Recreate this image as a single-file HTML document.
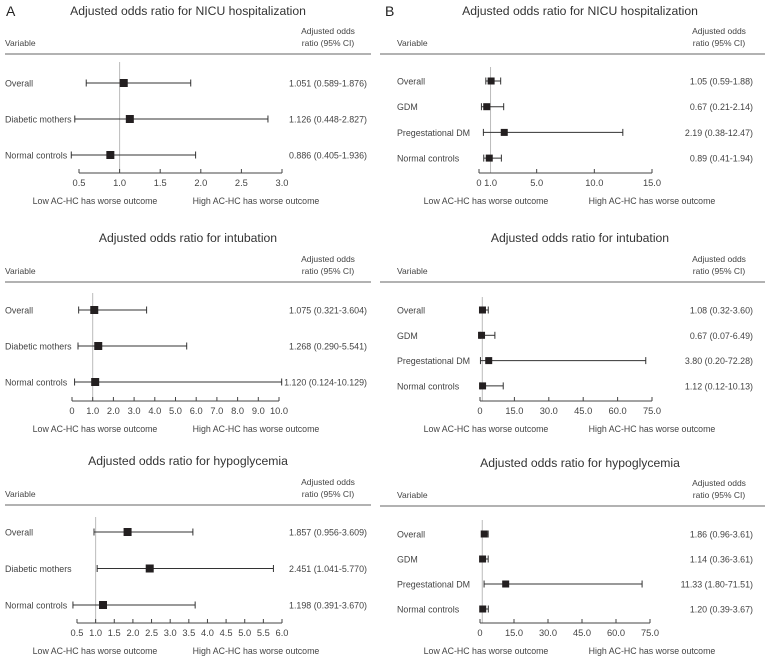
<!DOCTYPE html>
<html><head><meta charset="utf-8"><style>
body{margin:0;background:#fff;}
svg{display:block;font-family:"Liberation Sans",sans-serif;}
</style></head><body>
<svg id="c" width="765" height="663" viewBox="0 0 765 663" xmlns="http://www.w3.org/2000/svg">
<text x="6" y="16" font-size="14" fill="#222">A</text>
<text x="385" y="16" font-size="14" fill="#222">B</text>
</svg>
<script>
// Panel A1 NICU
const a1Cats=["Overall","Diabetic mothers","Normal controls"];
const a1Est=[1.051,1.126,0.886];
const a1Lo=[0.589,0.448,0.405];
const a1Hi=[1.876,2.827,1.936];
const a1Txt=["1.051 (0.589-1.876)","1.126 (0.448-2.827)","0.886 (0.405-1.936)"];
const a1Ticks=[0.5,1.0,1.5,2.0,2.5,3.0];
const a1TickLbl=["0.5","1.0","1.5","2.0","2.5","3.0"];
// Panel A2 intubation
const a2Cats=["Overall","Diabetic mothers","Normal controls"];
const a2Est=[1.075,1.268,1.120];
const a2Lo=[0.321,0.290,0.124];
const a2Hi=[3.604,5.541,10.129];
const a2Txt=["1.075 (0.321-3.604)","1.268 (0.290-5.541)","1.120 (0.124-10.129)"];
const a2Ticks=[0,1,2,3,4,5,6,7,8,9,10];
const a2TickLbl=["0","1.0","2.0","3.0","4.0","5.0","6.0","7.0","8.0","9.0","10.0"];
// Panel A3 hypoglycemia
const a3Cats=["Overall","Diabetic mothers","Normal controls"];
const a3Est=[1.857,2.451,1.198];
const a3Lo=[0.956,1.041,0.391];
const a3Hi=[3.609,5.770,3.670];
const a3Txt=["1.857 (0.956-3.609)","2.451 (1.041-5.770)","1.198 (0.391-3.670)"];
const a3Ticks=[0.5,1,1.5,2,2.5,3,3.5,4,4.5,5,5.5,6];
const a3TickLbl=["0.5","1.0","1.5","2.0","2.5","3.0","3.5","4.0","4.5","5.0","5.5","6.0"];
// Panel B1
const b1Cats=["Overall","GDM","Pregestational DM","Normal controls"];
const b1Est=[1.05,0.67,2.19,0.89];
const b1Lo=[0.59,0.21,0.38,0.41];
const b1Hi=[1.88,2.14,12.47,1.94];
const b1Txt=["1.05 (0.59-1.88)","0.67 (0.21-2.14)","2.19 (0.38-12.47)","0.89 (0.41-1.94)"];
const b1Ticks=[0,5,10,15];
const b1LblVals=[0,1,5,10,15];
const b1TickLbl=["0","1.0","5.0","10.0","15.0"];
// Panel B2
const b2Cats=["Overall","GDM","Pregestational DM","Normal controls"];
const b2Est=[1.08,0.67,3.80,1.12];
const b2Lo=[0.32,0.07,0.20,0.12];
const b2Hi=[3.60,6.49,72.28,10.13];
const b2Txt=["1.08 (0.32-3.60)","0.67 (0.07-6.49)","3.80 (0.20-72.28)","1.12 (0.12-10.13)"];
const b2Ticks=[0,15,30,45,60,75];
const b2TickLbl=["0","15.0","30.0","45.0","60.0","75.0"];
// Panel B3
const b3Cats=["Overall","GDM","Pregestational DM","Normal controls"];
const b3Est=[1.86,1.14,11.33,1.20];
const b3Lo=[0.96,0.36,1.80,0.39];
const b3Hi=[3.61,3.61,71.51,3.67];
const b3Txt=["1.86 (0.96-3.61)","1.14 (0.36-3.61)","11.33 (1.80-71.51)","1.20 (0.39-3.67)"];
const b3Ticks=[0,15,30,45,60,75];
const b3TickLbl=["0","15.0","30.0","45.0","60.0","75.0"];

const svg=document.getElementById('c');
const NS='http://www.w3.org/2000/svg';
function mk(tag,attrs,txt){const e=document.createElementNS(NS,tag);for(const k in attrs)e.setAttribute(k,attrs[k]);if(txt!==undefined)e.textContent=txt;svg.appendChild(e);return e;}

function panel(p){
  const sx=v=>p.x0+(v-p.d0)/(p.d1-p.d0)*(p.x1-p.x0);
  let e;
  e=mk('text',{x:p.tx,y:p.ty,'font-size':12.2,fill:'#333','text-anchor':'middle'},p.title);
  
  
  e=mk('text',{x:p.lx,y:p.lineY-8,'font-size':8.5,fill:'#444'},'Variable');
  
  
  e=mk('text',{x:p.hx,y:p.lineY-20,'font-size':8.5,fill:'#444','text-anchor':'middle'},'Adjusted odds');
  
  
  e=mk('text',{x:p.hx,y:p.lineY-8,'font-size':8.5,fill:'#444','text-anchor':'middle'},'ratio (95% CI)');
  
  
  e=mk('line',{x1:p.lineX0,x2:p.lineX1,y1:p.lineY,y2:p.lineY,stroke:'#666','stroke-width':1});
  
  
  e=mk('line',{x1:sx(1),x2:sx(1),y1:p.refTop,y2:p.axisY,stroke:'#bbb','stroke-width':1});
  
  
  e=mk('line',{x1:p.x0,x2:p.x1,y1:p.axisY,y2:p.axisY,stroke:'#444','stroke-width':1});
  
  
  p.ticks.forEach(t=>{
    const tk=mk('line',{x1:sx(t),x2:sx(t),y1:p.axisY-4,y2:p.axisY,stroke:'#444','stroke-width':1});
    
    
  });
  p.lblVals.forEach((t,i)=>{
    const tl=mk('text',{x:sx(t),y:p.axisY+13,'font-size':9.3,fill:'#444','text-anchor':'middle'},p.tickLbl[i]);
    
    
  });
  e=mk('text',{x:p.lowX,y:p.axisY+31,'font-size':8.8,fill:'#444','text-anchor':'middle'},'Low AC-HC has worse outcome');
  
  
  e=mk('text',{x:p.highX,y:p.axisY+31,'font-size':8.8,fill:'#444','text-anchor':'middle'},'High AC-HC has worse outcome');
  
  
  p.cats.forEach((c,i)=>{
    const y=p.rows[0]+i*p.rowStep;
    const t=mk('text',{x:p.lx,y:y+3.5,'font-size':8.9,fill:'#444'},c);
    
    
    const ci=mk('line',{x1:sx(p.lo[i]),x2:sx(p.hi[i]),y1:y,y2:y,stroke:'#333','stroke-width':1});
    
    
    [p.lo[i],p.hi[i]].forEach(v=>{
      const cap=mk('line',{x1:sx(v),x2:sx(v),y1:y-3.5,y2:y+3.5,stroke:'#333','stroke-width':1});
      
      
    });
    const s=p.sq;
    const pt=mk('rect',{x:sx(p.est[i])-s/2,y:y-s/2,width:s,height:s,fill:'#231f20'});
    
    
    const v=mk('text',{x:p.vx,y:y+3.5,'font-size':8.9,fill:'#444','text-anchor':'end'},p.txt[i]);
    
    
  });
}
const A={lx:5,hx:328,lineX0:5,lineX1:371,vx:367,lowX:95,highX:256,sq:8};
const B={lx:397,hx:719,lineX0:380,lineX1:765,vx:753,lowX:486,highX:652,sq:7};
panel(Object.assign({},A,{id:'a-nicu',title:'Adjusted odds ratio for NICU hospitalization',tx:188,ty:15,lineY:54,rows:[83],rowStep:36,refTop:62,axisY:173,x0:79,x1:282,d0:0.5,d1:3.0,cats:a1Cats,est:a1Est,lo:a1Lo,hi:a1Hi,txt:a1Txt,ticks:a1Ticks,lblVals:a1Ticks,tickLbl:a1TickLbl}));
panel(Object.assign({},A,{id:'a-intubation',title:'Adjusted odds ratio for intubation',tx:188,ty:242,lineY:282,rows:[310],rowStep:36,refTop:293,axisY:401,x0:72,x1:279,d0:0,d1:10,cats:a2Cats,est:a2Est,lo:a2Lo,hi:a2Hi,txt:a2Txt,ticks:a2Ticks,lblVals:a2Ticks,tickLbl:a2TickLbl}));
panel(Object.assign({},A,{id:'a-hypoglycemia',title:'Adjusted odds ratio for hypoglycemia',tx:188,ty:465,lineY:505,rows:[532],rowStep:36.5,refTop:517,axisY:623,x0:77,x1:282,d0:0.5,d1:6.0,cats:a3Cats,est:a3Est,lo:a3Lo,hi:a3Hi,txt:a3Txt,ticks:a3Ticks,lblVals:a3Ticks,tickLbl:a3TickLbl}));
panel(Object.assign({},B,{id:'b-nicu',title:'Adjusted odds ratio for NICU hospitalization',tx:580,ty:15,lineY:54,rows:[81],rowStep:25.7,refTop:67,axisY:173,x0:479,x1:652,d0:0,d1:15,cats:b1Cats,est:b1Est,lo:b1Lo,hi:b1Hi,txt:b1Txt,ticks:b1Ticks,lblVals:b1LblVals,tickLbl:b1TickLbl}));
panel(Object.assign({},B,{id:'b-intubation',title:'Adjusted odds ratio for intubation',tx:580,ty:242,lineY:282,rows:[310],rowStep:25.3,refTop:297,axisY:401,x0:480,x1:652,d0:0,d1:75,cats:b2Cats,est:b2Est,lo:b2Lo,hi:b2Hi,txt:b2Txt,ticks:b2Ticks,lblVals:b2Ticks,tickLbl:b2TickLbl}));
panel(Object.assign({},B,{id:'b-hypoglycemia',title:'Adjusted odds ratio for hypoglycemia',tx:580,ty:467,lineY:506,rows:[534],rowStep:25,refTop:520,axisY:623,x0:480,x1:650,d0:0,d1:75,cats:b3Cats,est:b3Est,lo:b3Lo,hi:b3Hi,txt:b3Txt,ticks:b3Ticks,lblVals:b3Ticks,tickLbl:b3TickLbl}));
</script>
</body></html>
